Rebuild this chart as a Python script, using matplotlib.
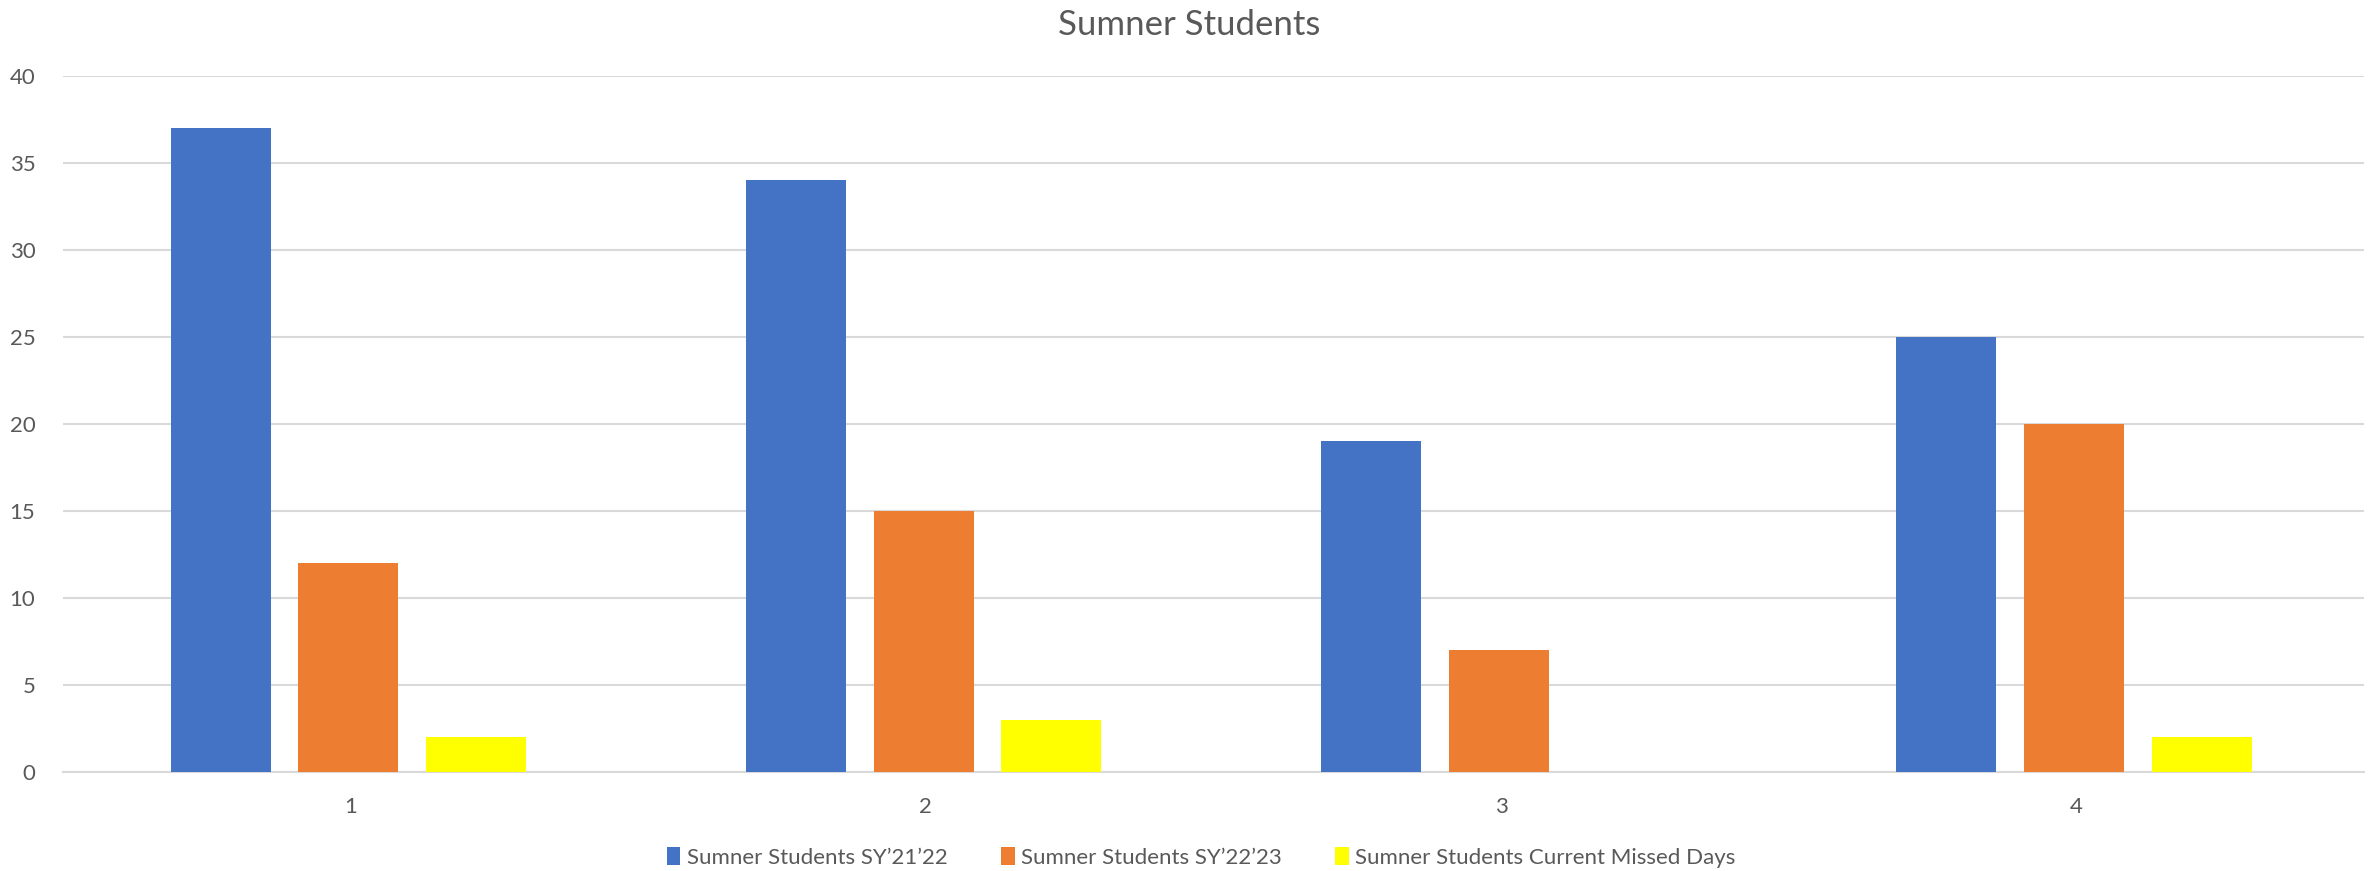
import matplotlib
matplotlib.use('Agg')
import numpy as np
import matplotlib.pyplot as plt

categories = ['1', '2', '3', '4']
sy2122 = [37, 34, 19, 25]
sy2223 = [12, 15, 7, 20]
missed = [2, 3, 0, 2]
series_names = ['Sumner Students SY\u201921\u201922',
                'Sumner Students SY\u201922\u201923',
                'Sumner Students Current Missed Days']
colors = ['#4472C4', '#ED7D31', '#FFFF00']

plt.rcParams['font.family'] = ['Lato', 'DejaVu Sans']
text_color = '#595959'
grid_color = '#D9D9D9'

fig = plt.figure(figsize=(23.79, 8.71), dpi=100)
ax = fig.add_axes([0.0265, 0.1137, 0.9672, 0.799])

x = np.arange(len(categories))
width = 0.174
step = 0.222
for i, (vals, name, c) in enumerate(zip([sy2122, sy2223, missed], series_names, colors)):
    ax.bar(x + (i - 1) * step - 0.004, vals, width=width, color=c, label=name, zorder=3)

ax.set_xlim(-0.5, len(categories) - 0.5)
ax.set_ylim(0, 40)
ax.set_yticks(range(0, 41, 5))
ax.set_xticks(x)
ax.set_xticklabels(categories)
ax.yaxis.grid(True, color=grid_color, linewidth=1.5, zorder=0)
for s in ['top', 'right', 'left']:
    ax.spines[s].set_visible(False)
ax.spines['bottom'].set_color(grid_color)
ax.spines['bottom'].set_linewidth(1.5)
ax.tick_params(axis='both', length=0, labelsize=16, colors=text_color)
ax.tick_params(axis='y', pad=20)
ax.tick_params(axis='x', pad=18)

fig.suptitle('Sumner Students', y=0.99, fontsize=25, color=text_color)

leg = fig.legend(loc='center', bbox_to_anchor=(0.505, 0.016), ncol=3, frameon=False,
                 fontsize=16, handlelength=0.6, handleheight=0.9, handletextpad=0.3,
                 columnspacing=2.4, labelcolor=text_color)

fig.savefig('out.png', dpi=100)
